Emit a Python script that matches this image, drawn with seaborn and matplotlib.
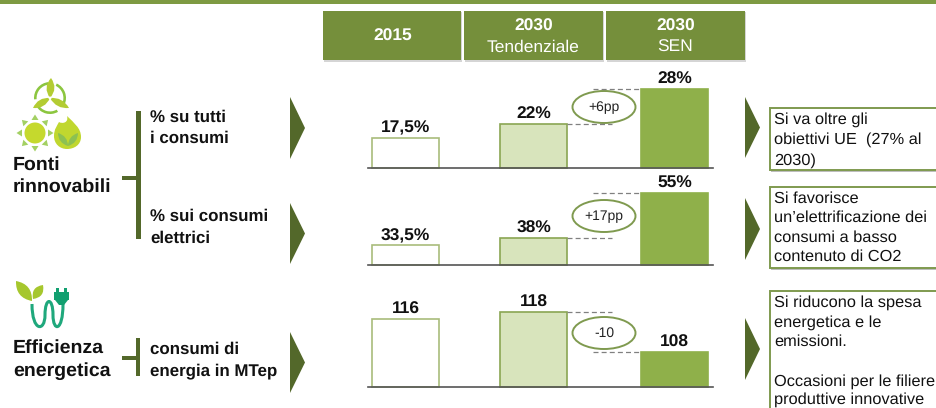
import numpy as np
import pandas as pd
import matplotlib
matplotlib.use("Agg")
import matplotlib.pyplot as plt
import seaborn as sns
from matplotlib.patches import Circle, Ellipse, PathPatch, Polygon, Rectangle, Wedge
from matplotlib.path import Path

# values as printed in the chart
columns = ["2015", "2030 Tendenziale", "2030 SEN"]
header_labels = ["2015", "2030\nTendenziale", "2030\nSEN"]
renew_all = [17.5, 22, 28]
renew_all_labels = ["17,5%", "22%", "28%"]
renew_elec = [33.5, 38, 55]
renew_elec_labels = ["33,5%", "38%", "55%"]
efficiency = [116, 118, 108]
efficiency_labels = ["116", "118", "108"]
delta_labels = ["+6pp", "+17pp", "-10"]

# layout, in pixels of the 937x408 picture
W, H = 937, 408
BAR_CENTRES = [405.5, 533.5, 674.5]
AXES_X = (368, 713)
# the source bars are not to scale, each panel gets its own value -> pixel scale
BAR_PX = [[30, 44, 79], [20, 27, 72], [68, 75, 35]]
BASELINES = [167.5, 265, 387]
ELLIPSE_Y = [107, 216, 333]

DARK = "#53682A"
HEAD = "#758F3B"
EDGE = "#7F9A4F"
FILLS = ["#FFFFFF", "#D8E4BC", "#8FB04A"]
EDGES = ["#A9BC7C", "#8AA653", "#8FB04A"]
FONT = "Liberation Sans"

sns.set_theme(style="white")
plt.rcParams["font.family"] = [FONT, "DejaVu Sans"]
plt.rcParams["text.hinting"] = "no_hinting"

fig = plt.figure(figsize=(W / 100, H / 100), dpi=100, facecolor="white")
page = fig.add_axes([0, 0, 1, 1])
page.set_xlim(0, W)
page.set_ylim(H, 0)
page.axis("off")


def box(x0, y0, x1, y1, **kw):
    page.add_patch(Rectangle((x0, y0), x1 - x0, y1 - y0, **kw))


def tri(x0, x1, y0, y1):
    page.add_patch(Polygon([(x0, y0), (x1, (y0 + y1) / 2), (x0, y1)], fc=DARK, ec="none"))


def lens(x0, y0, x1, y1, bulge, color):
    # pointed leaf or blade between two tips
    mx, my = (x0 + x1) / 2, (y0 + y1) / 2
    nx, ny = -(y1 - y0), x1 - x0
    n = np.hypot(nx, ny)
    nx, ny = nx / n * bulge, ny / n * bulge
    leaf = Path([(x0, y0), (mx + nx, my + ny), (x1, y1), (mx - nx, my - ny), (x0, y0)],
                [Path.MOVETO, Path.CURVE3, Path.CURVE3, Path.CURVE3, Path.CURVE3])
    page.add_patch(PathPatch(leaf, fc=color, ec="none"))


def bar_panel(values, labels, px, baseline, delta, ellipse_y):
    ax = fig.add_axes([AXES_X[0] / W, (H - baseline) / H, (AXES_X[1] - AXES_X[0]) / W, max(px) / H])
    ax.patch.set_alpha(0)
    df = pd.DataFrame({"x": BAR_CENTRES, "value": values, "column": columns})
    sns.barplot(data=df, x="x", y="value", hue="column", hue_order=columns, palette=FILLS,
                native_scale=True, dodge=False, width=0.53, legend=False, saturation=1, ax=ax)
    order = np.argsort(values)
    xp = np.r_[0, np.array(values, float)[order]]
    fp = np.r_[0, np.array(px, float)[order]]
    ax.set_yscale("function", functions=(lambda v: np.interp(v, xp, fp), lambda p: np.interp(p, fp, xp)))
    ax.set_xlim(*AXES_X)
    ax.set_ylim(0, max(values))
    ax.set_xticks([])
    ax.set_yticks([])
    ax.set_xlabel("")
    ax.set_ylabel("")
    sns.despine(ax=ax, left=True)
    ax.spines["bottom"].set_color("#555555")
    ax.spines["bottom"].set_linewidth(1.2)

    for cont, ec, lab in zip(ax.containers, EDGES, labels):
        for p in cont:
            p.set_edgecolor(ec)
            p.set_linewidth(1.2)
            p.set_clip_on(False)
        ax.bar_label(cont, labels=[lab], padding=1, fontsize=12.5, fontweight="bold", color="#111111")

    # dashed guides from the 2030 bars
    ax.hlines(values[1], 567, 612, color="#808080", lw=0.9, ls=(0, (4, 2.5)), clip_on=False)
    ax.hlines(values[2], 593, 640, color="#808080", lw=0.9, ls=(0, (4, 2.5)), clip_on=False)

    page.add_patch(Ellipse((604, ellipse_y), 63, 32, fc="white", ec=EDGE, lw=1.4, zorder=3))
    page.text(604, ellipse_y, delta, ha="center", va="center", fontsize=10, color="#222222", zorder=4)
    return ax


# top band and header cells
box(0, 0, W, 3.5, fc="#7E9A42", ec="none")
for (x0, x1), lab in zip([(323, 461.5), (464, 603), (606, 745)], header_labels):
    box(x0 + 1, 12, x1 + 1, 61.5, fc="#D5D5D5", ec="none")
    box(x0, 11, x1, 60, fc=HEAD, ec="none")
    lines = lab.split("\n")
    if len(lines) == 1:
        page.text((x0 + x1) / 2, 36, lines[0], ha="center", va="center", color="white",
                  fontsize=12.5, fontweight="bold")
    else:
        page.text((x0 + x1) / 2, 26, lines[0], ha="center", va="center", color="white",
                  fontsize=12.5, fontweight="bold")
        page.text((x0 + x1) / 2, 47.5, lines[1], ha="center", va="center", color="white", fontsize=12.5)

# left group labels
for y, t in [(165, "Fonti"), (187, "rinnovabili"), (348, "Efficienza"), (371, "energetica")]:
    page.text(13, y, t, ha="left", va="center", fontsize=14, fontweight="bold", color="#111111")
for y, t in [(117, "% su tutti"), (138, "i consumi"), (216, "% sui consumi"), (238, "elettrici"),
             (349, "consumi di"), (371, "energia in MTep")]:
    page.text(150, y, t, ha="left", va="center", fontsize=12.2, fontweight="bold", color="#111111")

# brackets
box(136.5, 111, 141, 239, fc=DARK, ec="none")
box(122, 175.5, 137, 179.5, fc=DARK, ec="none")
box(136.5, 338, 140.5, 376, fc=DARK, ec="none")
box(122, 356, 137, 360, fc=DARK, ec="none")

# chevrons
for y0, y1 in [(97, 159), (203, 264), (332, 393)]:
    tri(290, 305, y0, y1)
for y0, y1 in [(97, 158), (198, 260), (318, 380)]:
    tri(745, 760, y0, y1)

# turbine icon
for t0, t1 in [(-65, 25), (60, 150), (175, 265)]:
    page.add_patch(Wedge((50, 98), 16, t0, t1, width=2.6, fc="#8CC63F", ec="none"))
lens(50, 98, 51, 78, 8, "#B3CC33")
lens(50, 98, 33, 108, 7, "#B3CC33")
lens(50, 98, 69, 108, 7, "#B3CC33")
page.add_patch(Circle((50, 98), 1.5, fc="white", ec="none"))
# sun icon
page.add_patch(Circle((35, 133), 10.5, fc="#C5D92D", ec="none"))
for a in np.deg2rad(np.arange(0, 360, 45)):
    c, s = np.cos(a), np.sin(a)
    page.add_patch(Polygon([(35 + 18.5 * c, 133 + 18.5 * s), (35 + 13 * c - 3.5 * s, 133 + 13 * s + 3.5 * c),
                            (35 + 13 * c + 3.5 * s, 133 + 13 * s - 3.5 * c)], fc="#A3D063", ec="none"))
# flame icon
flame = Path([(67, 116), (74, 123), (81, 128), (81, 137), (81, 145), (74, 149), (67, 149),
              (60, 149), (54, 144), (54, 136), (54, 129), (57, 126), (59, 122), (62, 124), (69, 123), (67, 116)],
             [Path.MOVETO] + [Path.CURVE4] * 15)
page.add_patch(PathPatch(flame, fc="#C0D72F", ec="none"))
lens(68, 146, 58, 133, 6, "#8CC152")
lens(68, 146, 78, 133, 6, "#8CC152")

# efficiency icon
lens(32, 301, 16, 281, 11, "#A6C72D")
lens(33, 299, 43, 285, 9, "#A6C72D")
wave = Path([(32, 304), (32, 332), (45, 332), (45, 315), (45, 297), (53, 297), (53, 315), (53, 332), (63, 332),
             (63, 304)], [Path.MOVETO] + [Path.CURVE4] * 9)
page.add_patch(PathPatch(wave, fc="none", ec="#1FA87C", lw=2.2))
page.add_patch(Rectangle((54, 292), 15, 8, fc="#12A070", ec="none"))
page.add_patch(Rectangle((56, 288), 3, 5, fc="#12A070", ec="none"))
page.add_patch(Rectangle((64, 288), 3, 5, fc="#12A070", ec="none"))
page.add_patch(Polygon([(55, 300), (68, 300), (64, 305), (59, 305)], fc="#12A070", ec="none"))

# notes on the right
notes = [
    (108, 170, [(120, "Si va oltre gli"), (140, "obiettivi UE  (27% al"), (161, "2030)")]),
    (187, 268, [(199, "Si favorisce"), (218, "un’elettrificazione dei"), (238, "consumi a basso"),
                (257, "contenuto di CO2")]),
    (291, 412, [(303, "Si riducono la spesa"), (323, "energetica e le"), (342, "emissioni."),
                (382, "Occasioni per le filiere"), (400, "produttive innovative")]),
]
for y0, y1, lines in notes:
    box(771, y0 + 1.5, W + 5, y1 + 1.5, fc="#BDBDBD", ec="none")
    box(770, y0, W + 5, y1, fc="white", ec=EDGE, lw=1.4)
    for y, t in lines:
        page.text(774, y, t, ha="left", va="center", fontsize=11.8, color="#111111")

bar_panel(renew_all, renew_all_labels, BAR_PX[0], BASELINES[0], delta_labels[0], ELLIPSE_Y[0])
bar_panel(renew_elec, renew_elec_labels, BAR_PX[1], BASELINES[1], delta_labels[1], ELLIPSE_Y[1])
bar_panel(efficiency, efficiency_labels, BAR_PX[2], BASELINES[2], delta_labels[2], ELLIPSE_Y[2])

fig.savefig("out.png", dpi=100)
plt.close(fig)
